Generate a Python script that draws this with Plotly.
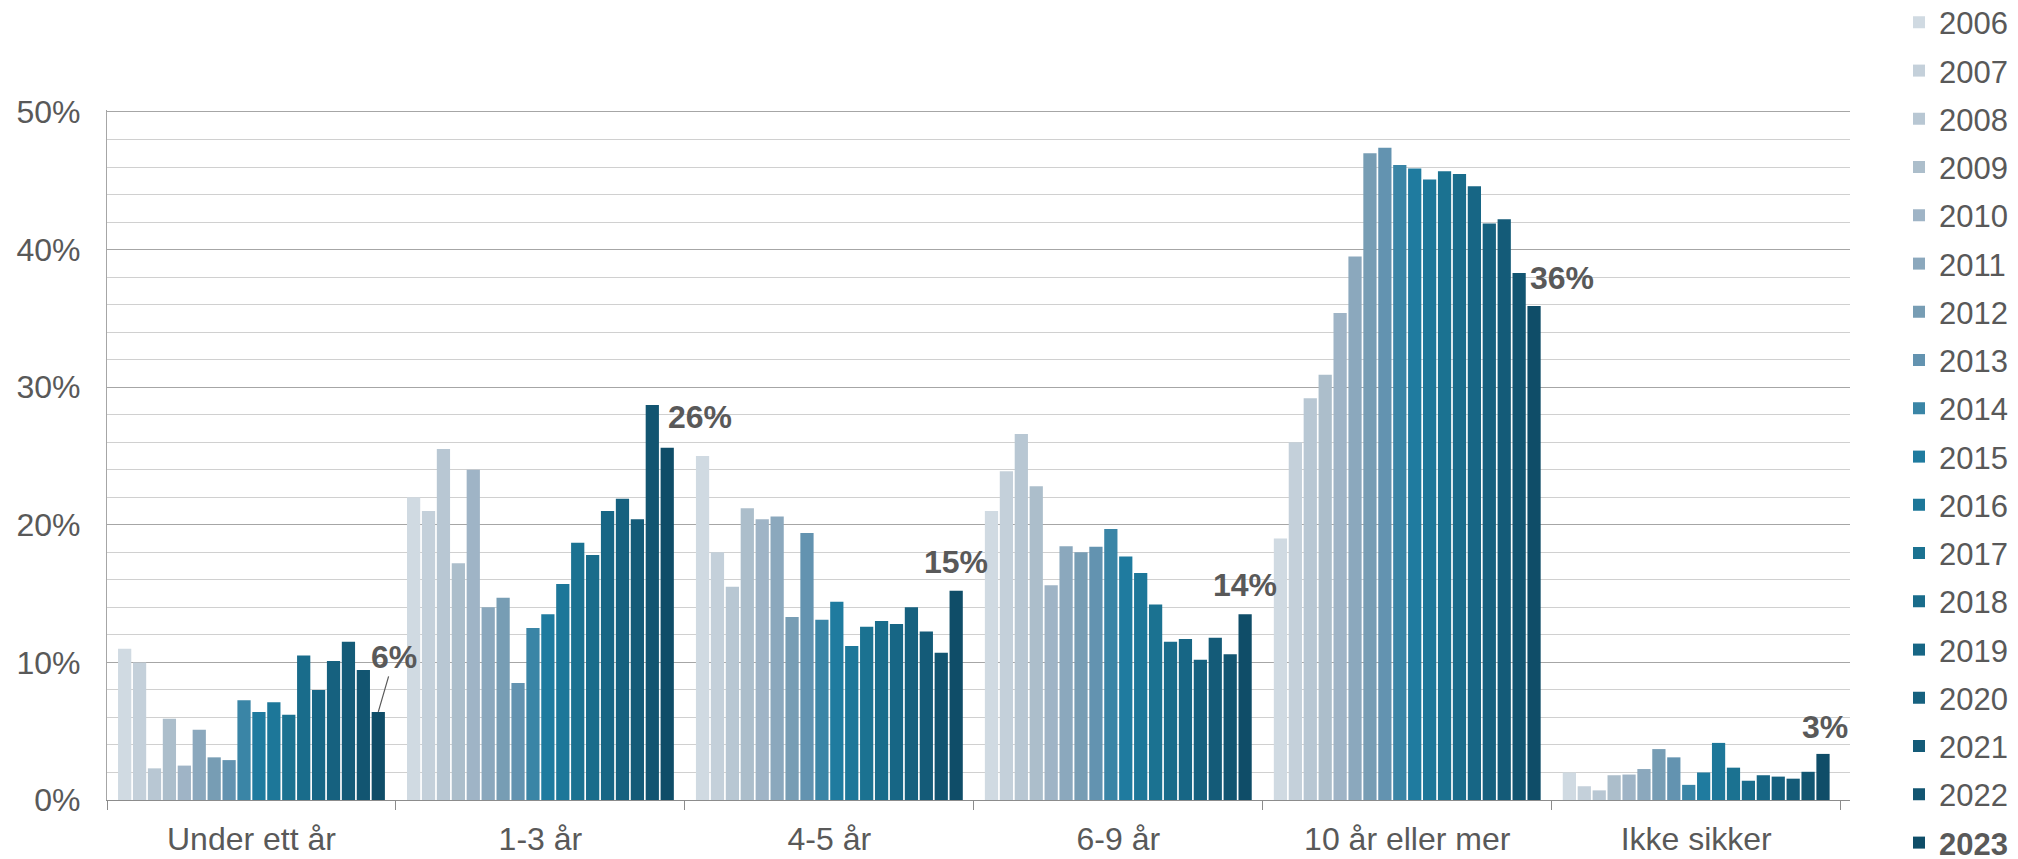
import plotly.graph_objects as go

# ---------------- data ----------------
categories = ["Under ett år", "1-3 år", "4-5 år", "6-9 år", "10 år eller mer", "Ikke sikker"]
years = [2006, 2007, 2008, 2009, 2010, 2011, 2012, 2013, 2014,
         2015, 2016, 2017, 2018, 2019, 2020, 2021, 2022, 2023]

v2006 = [11.0, 22.0, 25.0, 21.0, 19.0, 2.0]
v2007 = [10.0, 21.0, 18.0, 23.9, 26.0, 1.0]
v2008 = [2.3, 25.5, 15.5, 26.6, 29.2, 0.7]
v2009 = [5.9, 17.2, 21.2, 22.8, 30.9, 1.8]
v2010 = [2.5, 24.0, 20.4, 15.6, 35.4, 1.85]
v2011 = [5.1, 14.0, 20.6, 18.45, 39.5, 2.25]
v2012 = [3.1, 14.7, 13.3, 18.0, 47.0, 3.7]
v2013 = [2.9, 8.5, 19.4, 18.4, 47.4, 3.1]
v2014 = [7.25, 12.5, 13.1, 19.7, 46.15, 1.1]
v2015 = [6.4, 13.5, 14.4, 17.7, 45.9, 2.0]
v2016 = [7.1, 15.7, 11.2, 16.5, 45.1, 4.15]
v2017 = [6.2, 18.7, 12.6, 14.2, 45.7, 2.35]
v2018 = [10.5, 17.8, 13.0, 11.5, 45.5, 1.4]
v2019 = [8.0, 21.0, 12.8, 11.7, 44.6, 1.8]
v2020 = [10.1, 21.9, 14.0, 10.2, 41.9, 1.7]
v2021 = [11.5, 20.4, 12.25, 11.8, 42.2, 1.55]
v2022 = [9.45, 28.7, 10.7, 10.6, 38.3, 2.05]
v2023 = [6.4, 25.6, 15.2, 13.5, 35.9, 3.35]

series = [v2006, v2007, v2008, v2009, v2010, v2011, v2012, v2013, v2014,
          v2015, v2016, v2017, v2018, v2019, v2020, v2021, v2022, v2023]

label_texts = ["6%", "26%", "15%", "14%", "36%", "3%"]

y_tick_vals = [0, 10, 20, 30, 40, 50]
y_tick_text = ["0%", "10%", "20%", "30%", "40%", "50%"]

# ---------------- style ----------------
colors = ["#d0dae2", "#c4d0da", "#b8c7d3", "#acbecb", "#9fb4c6", "#8ba8bd",
          "#779db4", "#6393b0", "#3a85a6", "#1f7b9f", "#1d7799", "#1b7291",
          "#196c8b", "#176685", "#16617f", "#145b78", "#125571", "#0f4d68"]

FONT = "Liberation Sans, Arial, sans-serif"
TXT = "#595959"
# the page body adds an 8px margin at top/left, so the figure is drawn 8px in
W, H = 2010, 851
PLOT_L, PLOT_R, PLOT_T, PLOT_B = 99, 1842, 104, 792   # pixel box of the 0..50 % area
Y_MAX = 50
Y_PAD = 0.15                                        # keeps the 50 % gridline visible
px_per_unit = (PLOT_B - PLOT_T) / Y_MAX
TOP_PX = PLOT_T - Y_PAD * px_per_unit

BARGAP = 0.0706
BARGROUPGAP = 0.113

LEG_X = 1891
LEG_FIRST = 14.7
LEG_PITCH = 48.25

# per-label pixel offsets relative to the 2023 bar top (x shift, y shift)
label_offsets = [(16, -55), (33, 31), (0, 29), (0, 29), (28, 28), (2, 27)]

fig = go.Figure()
legend_layouts = {}
for k, (yr, vals) in enumerate(zip(years, series)):
    name = f"<b>{yr}</b>" if yr == 2023 else str(yr)
    lid = "legend" if k == 0 else f"legend{k + 1}"
    fig.add_trace(go.Bar(
        x=categories, y=vals, name=name,
        marker=dict(color=colors[k], line=dict(width=0)),
        legend=lid,
        hoverinfo="skip",
    ))
    legend_layouts[lid] = dict(
        font=dict(family=FONT, size=31, color=TXT),
        xanchor="left", yanchor="middle",
        x=LEG_X / W, y=1 - (LEG_FIRST + k * LEG_PITCH) / H,
        bgcolor="rgba(0,0,0,0)", borderwidth=0,
        itemclick=False, itemdoubleclick=False,
    )

n = len(years)
bar_last_off = (1 - BARGAP) / 2 - (1 - BARGAP) / (2 * n)

annotations = []
for i, (txt, val) in enumerate(zip(label_texts, v2023)):
    dx, dy = label_offsets[i]
    base = dict(x=i + bar_last_off, y=val, xref="x", yref="y", text=f"<b>{txt}</b>",
                font=dict(family=FONT, size=32, color=TXT))
    if i == 0:
        base.update(showarrow=True, ax=dx, ay=dy, arrowhead=0, arrowwidth=1.2,
                    arrowcolor=TXT, standoff=0, startstandoff=0)
    else:
        base.update(showarrow=False, xshift=dx, yshift=dy, xanchor="center", yanchor="middle")
    annotations.append(base)

fig.update_layout(
    width=W, height=H,
    margin=dict(l=0, r=0, t=0, b=0, autoexpand=False),
    paper_bgcolor="white", plot_bgcolor="white",
    barmode="group", bargap=BARGAP, bargroupgap=BARGROUPGAP,
    font=dict(family=FONT, size=32, color=TXT),
    showlegend=True,
    annotations=annotations,
    xaxis=dict(
        domain=[PLOT_L / W, PLOT_R / W],
        type="category",
        showline=True, linecolor="#8c8c8c", linewidth=1.3,
        ticks="outside", tickson="boundaries", ticklen=9, tickcolor="#8c8c8c", tickwidth=1.3,
        showgrid=False, zeroline=False,
        tickfont=dict(family=FONT, size=32, color=TXT),
        ticklabelstandoff=10,
        automargin=False,
    ),
    yaxis=dict(
        domain=[(H - PLOT_B) / H, (H - TOP_PX) / H],
        range=[0, Y_MAX + Y_PAD],
        tickvals=y_tick_vals, ticktext=y_tick_text,
        showline=True, linecolor="#a6a6a6", linewidth=1.3,
        showgrid=True, gridcolor="#a6a6a6", gridwidth=1.3,
        zeroline=False, ticks="",
        minor=dict(dtick=2, showgrid=True, gridcolor="#d0d0d0", gridwidth=1.3, ticks=""),
        tickfont=dict(family=FONT, size=32, color=TXT),
        ticklabelstandoff=19,
        automargin=False,
    ),
    **legend_layouts,
)

fig.write_html("out.html")
